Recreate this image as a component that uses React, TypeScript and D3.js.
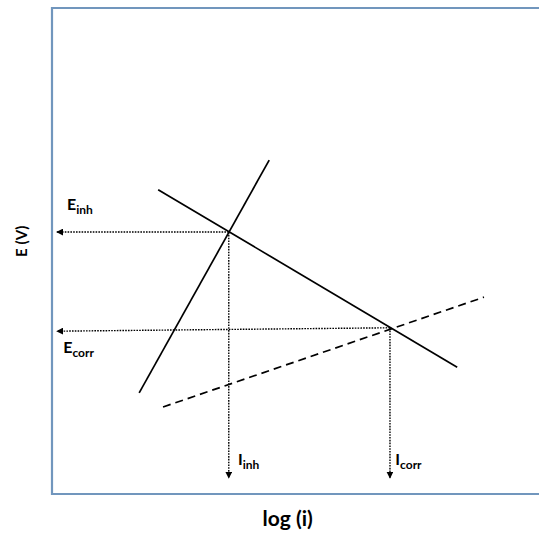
import React from 'react';
import * as d3 from 'd3';

const width = 539;
const height = 536;
const frame = { left: 52, top: 8, bottom: 494, right: 539 };

// schematic Tafel plot, abstract units on both axes (0..10)
const anodicLine = [
	{ x: 1.79, y: 2.08 },
	{ x: 4.46, y: 6.87 }
];
const cathodicLine = [
	{ x: 2.18, y: 6.26 },
	{ x: 8.32, y: 2.61 }
];
const anodicUninhibited = [
	{ x: 2.28, y: 1.79 },
	{ x: 8.87, y: 4.05 }
];
const inhPoint = { x: 3.63, y: 5.39 };
const corrPoint = { x: 6.94, y: 3.42 };
const arrowLeftX = [0.1, 0.1];
const arrowLeftY = [5.39, 3.35];
const arrowBottomY = 0.33;

const labels = [
	{ main: 'E', sub: 'inh', x: 0.31, y: 5.84 },
	{ main: 'E', sub: 'corr', x: 0.23, y: 2.9 },
	{ main: 'I', sub: 'inh', x: 3.82, y: 0.59 },
	{ main: 'I', sub: 'corr', x: 7.05, y: 0.59 }
];

const x = d3.scaleLinear().domain([0, 10]).range([frame.left, frame.right]);
const y = d3.scaleLinear().domain([0, 10]).range([frame.bottom, frame.top]);

const line = d3
	.line<{ x: number; y: number }>()
	.x(d => x(d.x))
	.y(d => y(d.y));

const font = 'Lato, "Open Sans", sans-serif';

export default function App() {
	const dotted = { stroke: '#000', strokeWidth: 1.4, strokeDasharray: '1.6,1.2', fill: 'none' };
	return (
		<svg width={width} height={height} style={{ position: 'absolute', left: 0, top: 0 }}>
			<defs>
				<marker
					id="arrow"
					viewBox="0 0 10 10"
					refX="9"
					refY="5"
					markerWidth="7"
					markerHeight="7"
					markerUnits="userSpaceOnUse"
					orient="auto"
				>
					<path d="M0,0 L10,5 L0,10 z" fill="#000" />
				</marker>
			</defs>
			<rect width={width} height={height} fill="#fff" />
			<path
				d={`M${frame.right},${frame.top} H${frame.left} V${frame.bottom} H${frame.right}`}
				fill="none"
				stroke="#7196bd"
				strokeWidth={2.2}
			/>

			<path d={line(anodicLine) || ''} stroke="#000" strokeWidth={1.7} fill="none" />
			<path d={line(cathodicLine) || ''} stroke="#000" strokeWidth={1.7} fill="none" />
			<path
				d={line(anodicUninhibited) || ''}
				stroke="#000"
				strokeWidth={1.7}
				strokeDasharray="8,5"
				fill="none"
			/>

			<path d={line([inhPoint, { x: arrowLeftX[0], y: arrowLeftY[0] }]) || ''} {...dotted} markerEnd="url(#arrow)" />
			<path d={line([corrPoint, { x: arrowLeftX[1], y: arrowLeftY[1] }]) || ''} {...dotted} markerEnd="url(#arrow)" />
			<path d={line([inhPoint, { x: inhPoint.x, y: arrowBottomY }]) || ''} {...dotted} markerEnd="url(#arrow)" />
			<path d={line([corrPoint, { x: corrPoint.x, y: arrowBottomY }]) || ''} {...dotted} markerEnd="url(#arrow)" />

			{labels.map(l => (
				<text key={l.main + l.sub} x={x(l.x)} y={y(l.y)} fontFamily={font} fontWeight="bold" fontSize={16} fill="#000">
					{l.main}
					<tspan fontSize={12} dy={4}>
						{l.sub}
					</tspan>
				</text>
			))}

			<text
				transform={`translate(27, ${y(5.2)}) rotate(-90)`}
				textAnchor="middle"
				fontFamily={font}
				fontWeight="bold"
				fontSize={15}
			>
				E (V)
			</text>
			<text x={x(4.84)} y={526} textAnchor="middle" fontFamily={font} fontWeight="bold" fontSize={21}>
				log (i)
			</text>
		</svg>
	);
}
